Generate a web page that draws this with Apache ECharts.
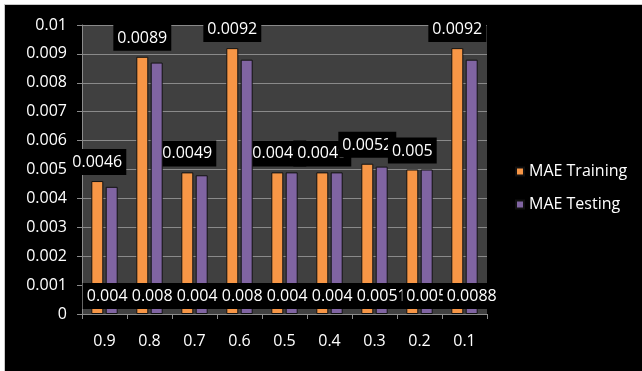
<!DOCTYPE html>
<html>
<head>
<meta charset="utf-8">
<script src="https://cdn.jsdelivr.net/npm/echarts@6/dist/echarts.min.js"></script>
<style>
  html, body { margin: 0; padding: 0; background: #ffffff; }
  #chart {
    position: absolute; left: 4px; top: 4px;
    width: 638px; height: 367px;
    background: #000000;
    border-left: 1px solid #c8c8c8; border-top: 1px solid #c8c8c8;
  }
</style>
</head>
<body>
<div id="chart"></div>
<script>
var categories = ["0.9", "0.8", "0.7", "0.6", "0.5", "0.4", "0.3", "0.2", "0.1"];
var maeTraining = [0.0046, 0.0089, 0.0049, 0.0092, 0.0049, 0.0049, 0.0052, 0.005, 0.0092];
var maeTesting = [0.0044, 0.0087, 0.0048, 0.0088, 0.0049, 0.0049, 0.0051, 0.005, 0.0088];

var chartDom = document.getElementById("chart");
var myChart = echarts.init(chartDom);
var font = "'Open Sans', 'Noto Sans', sans-serif";

// label boxes like the excel ones: black bg, cover each other
var labelBox = {
    show: true,
    color: "#ffffff",
    fontFamily: font,
    fontSize: 16,
    lineHeight: 17,
    backgroundColor: "#000000",
    padding: [5, 4, 4, 4]
};

var option = {
    backgroundColor: "#000000",
    animation: false,
    grid: {
        left: 77,
        top: 20,
        right: 156,
        bottom: 58,
        show: true,
        backgroundColor: "#404040",
        borderWidth: 0
    },
    legend: {
        orient: "vertical",
        left: 505,
        top: 152,
        itemWidth: 8,
        itemHeight: 8,
        itemGap: 14,
        icon: "rect",
        textStyle: { color: "#ffffff", fontFamily: font, fontSize: 16, lineHeight: 19 },
        data: ["MAE Training", "MAE Testing"]
    },
    xAxis: {
        type: "category",
        data: categories,
        axisLine: { lineStyle: { color: "#8c8c8c" } },
        axisTick: { show: true, length: 5, lineStyle: { color: "#8c8c8c" } },
        axisLabel: { color: "#ffffff", fontFamily: font, fontSize: 16, margin: 19 }
    },
    yAxis: {
        type: "value",
        min: 0,
        max: 0.01,
        interval: 0.001,
        axisLine: { show: true, lineStyle: { color: "#8c8c8c" } },
        axisTick: { show: true, length: 5, lineStyle: { color: "#8c8c8c" } },
        splitLine: { lineStyle: { color: "#8a8a8a", width: 1 } },
        axisLabel: {
            color: "#ffffff", fontFamily: font, fontSize: 16, margin: 15,
            formatter: function (v) { return v === 0 ? "0" : String(+v.toFixed(3)); }
        }
    },
    series: [
        {
            name: "MAE Training",
            type: "bar",
            data: maeTraining,
            barWidth: 12,
            barGap: "20%",
            itemStyle: { color: "#f79646", borderColor: "#111111", borderWidth: 1 },
            label: Object.assign({ position: "top", distance: 6 }, labelBox),
            z: 2
        },
        {
            name: "MAE Testing",
            type: "bar",
            data: maeTesting,
            barWidth: 12,
            itemStyle: { color: "#8064a2", borderColor: "#111111", borderWidth: 1 },
            label: Object.assign({ position: "insideBottom", distance: 5 }, labelBox),
            z: 3
        }
    ]
};
option && myChart.setOption(option);
</script>
</body>
</html>
